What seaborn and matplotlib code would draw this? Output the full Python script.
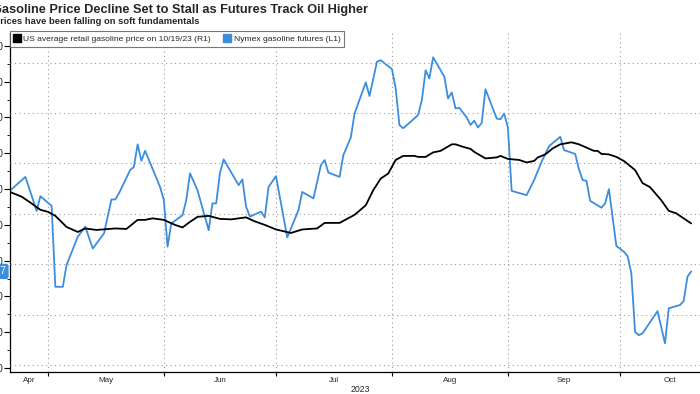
import matplotlib
matplotlib.use("Agg")
import matplotlib.pyplot as plt
import matplotlib.dates as mdates
import matplotlib.transforms as mtransforms
from matplotlib.lines import Line2D
from matplotlib.ticker import FixedLocator, NullFormatter
import pandas as pd
import seaborn as sns

# ---------------- data ----------------
title = "Gasoline Price Decline Set to Stall as Futures Track Oil Higher"
subtitle = "Prices have been falling on soft fundamentals"
retail_label = "US average retail gasoline price on 10/19/23 (R1)"
futures_label = "Nymex gasoline futures (L1)"
year_label = "2023"
last_futures_label = "2.27"

futures_dates = [
    "2023-04-21", "2023-04-25", "2023-04-28", "2023-04-29", "2023-05-02", "2023-05-03",
    "2023-05-05", "2023-05-06", "2023-05-09", "2023-05-11", "2023-05-13", "2023-05-16",
    "2023-05-18", "2023-05-19", "2023-05-20", "2023-05-23", "2023-05-24", "2023-05-25",
    "2023-05-26", "2023-05-27", "2023-05-31", "2023-06-01", "2023-06-02", "2023-06-03",
    "2023-06-06", "2023-06-07", "2023-06-08", "2023-06-10", "2023-06-13", "2023-06-14",
    "2023-06-15", "2023-06-16", "2023-06-17", "2023-06-21", "2023-06-22", "2023-06-23",
    "2023-06-24", "2023-06-27", "2023-06-28", "2023-06-29", "2023-07-01", "2023-07-04",
    "2023-07-07", "2023-07-08", "2023-07-11", "2023-07-13", "2023-07-14", "2023-07-15",
    "2023-07-18", "2023-07-19", "2023-07-21", "2023-07-22", "2023-07-25", "2023-07-26",
    "2023-07-28", "2023-07-29", "2023-08-01", "2023-08-02", "2023-08-03", "2023-08-04",
    "2023-08-06", "2023-08-08", "2023-08-09", "2023-08-10", "2023-08-11", "2023-08-12",
    "2023-08-15", "2023-08-16", "2023-08-17", "2023-08-18", "2023-08-19", "2023-08-21",
    "2023-08-22", "2023-08-23", "2023-08-24", "2023-08-25", "2023-08-26", "2023-08-29",
    "2023-08-30", "2023-08-31", "2023-09-01", "2023-09-02", "2023-09-05", "2023-09-06",
    "2023-09-08", "2023-09-10", "2023-09-12", "2023-09-15", "2023-09-16", "2023-09-19",
    "2023-09-20", "2023-09-21", "2023-09-22", "2023-09-23", "2023-09-26", "2023-09-27",
    "2023-09-28", "2023-09-30", "2023-10-02", "2023-10-03", "2023-10-04", "2023-10-05",
    "2023-10-06", "2023-10-07", "2023-10-11", "2023-10-13", "2023-10-14", "2023-10-17",
    "2023-10-18", "2023-10-19", "2023-10-20",
]
futures_values = [
    2.497, 2.534, 2.439, 2.480, 2.453, 2.227,
    2.227, 2.288, 2.367, 2.395, 2.334, 2.376,
    2.471, 2.471, 2.488, 2.553, 2.562, 2.625,
    2.579, 2.607, 2.506, 2.469, 2.339, 2.404,
    2.427, 2.469, 2.544, 2.497, 2.385, 2.460,
    2.460, 2.544, 2.583, 2.511, 2.527, 2.451,
    2.423, 2.437, 2.421, 2.506, 2.536, 2.365,
    2.441, 2.492, 2.474, 2.567, 2.581, 2.546,
    2.534, 2.595, 2.644, 2.711, 2.798, 2.760,
    2.856, 2.860, 2.835, 2.781, 2.679, 2.670,
    2.688, 2.707, 2.749, 2.832, 2.809, 2.868,
    2.814, 2.753, 2.770, 2.725, 2.727, 2.700,
    2.679, 2.691, 2.672, 2.685, 2.779, 2.697,
    2.695, 2.711, 2.672, 2.495, 2.486, 2.483,
    2.525, 2.576, 2.620, 2.646, 2.609, 2.598,
    2.555, 2.525, 2.523, 2.467, 2.448, 2.460,
    2.500, 2.341, 2.325, 2.313, 2.265, 2.101,
    2.092, 2.097, 2.159, 2.069, 2.167, 2.176,
    2.187, 2.255, 2.270,
]

retail_dates = [
    "2023-04-21", "2023-04-24", "2023-04-26", "2023-04-29", "2023-05-01", "2023-05-03",
    "2023-05-06", "2023-05-09", "2023-05-11", "2023-05-14", "2023-05-19", "2023-05-22",
    "2023-05-23", "2023-05-25", "2023-05-27", "2023-05-29", "2023-06-01", "2023-06-04",
    "2023-06-06", "2023-06-08", "2023-06-10", "2023-06-13", "2023-06-16", "2023-06-19",
    "2023-06-21", "2023-06-23", "2023-06-25", "2023-06-28", "2023-07-01", "2023-07-05",
    "2023-07-08", "2023-07-12", "2023-07-14", "2023-07-18", "2023-07-22", "2023-07-25",
    "2023-07-27", "2023-07-29", "2023-07-31", "2023-08-02", "2023-08-04", "2023-08-07",
    "2023-08-08", "2023-08-10", "2023-08-12", "2023-08-14", "2023-08-17", "2023-08-18",
    "2023-08-20", "2023-08-22", "2023-08-23", "2023-08-26", "2023-08-29", "2023-08-30",
    "2023-09-01", "2023-09-04", "2023-09-06", "2023-09-08", "2023-09-09", "2023-09-11",
    "2023-09-13", "2023-09-15", "2023-09-18", "2023-09-20", "2023-09-24", "2023-09-25",
    "2023-09-26", "2023-09-28", "2023-09-30", "2023-10-02", "2023-10-05", "2023-10-07",
    "2023-10-09", "2023-10-12", "2023-10-14", "2023-10-16", "2023-10-18", "2023-10-20",
]
retail_values = [
    3.643, 3.634, 3.624, 3.608, 3.604, 3.596,
    3.574, 3.564, 3.571, 3.568, 3.571, 3.570,
    3.576, 3.588, 3.588, 3.591, 3.588, 3.578,
    3.573, 3.584, 3.594, 3.596, 3.590, 3.589,
    3.591, 3.593, 3.586, 3.578, 3.569, 3.562,
    3.569, 3.571, 3.582, 3.582, 3.598, 3.617,
    3.647, 3.670, 3.680, 3.707, 3.715, 3.715,
    3.713, 3.713, 3.722, 3.725, 3.738, 3.738,
    3.733, 3.729, 3.723, 3.710, 3.712, 3.715,
    3.709, 3.707, 3.702, 3.705, 3.712, 3.718,
    3.730, 3.738, 3.742, 3.738, 3.725, 3.725,
    3.719, 3.718, 3.713, 3.705, 3.687, 3.661,
    3.653, 3.627, 3.606, 3.601, 3.591, 3.581,
]

left_ticks = [2.0, 2.1, 2.2, 2.3, 2.4, 2.5, 2.6, 2.7, 2.8, 2.9]
right_ticks = [3.3, 3.4, 3.5, 3.6, 3.7, 3.8, 3.9]
month_starts = ["2023-04-01", "2023-05-01", "2023-06-01", "2023-07-01",
                "2023-08-01", "2023-09-01", "2023-10-01", "2023-11-01"]
month_names = ["Apr", "May", "Jun", "Jul", "Aug", "Sep", "Oct"]

# ---------------- style ----------------
sns.set_style("white")
plt.rcParams["font.family"] = ["Liberation Sans Narrow", "Liberation Sans", "DejaVu Sans"]

BLUE = "#3b8ede"
GRID = "#9a9a9a"

W, H = 700, 394
fig = plt.figure(figsize=(W / 100, H / 100), dpi=100)
ax_left, ax_right, ax_top, ax_bottom = 10, 720, 33, 372
ax = fig.add_axes([ax_left / W, 1 - ax_bottom / H,
                   (ax_right - ax_left) / W, (ax_bottom - ax_top) / H])
ax2 = ax.twinx()

df_f = pd.DataFrame({"date": pd.to_datetime(futures_dates), "value": futures_values})
df_r = pd.DataFrame({"date": pd.to_datetime(retail_dates), "value": retail_values})

sns.lineplot(data=df_f, x="date", y="value", ax=ax, color=BLUE, lw=1.3)
sns.lineplot(data=df_r, x="date", y="value", ax=ax2, color="black", lw=1.3)

xlim = (pd.Timestamp("2023-04-20 21:00"), pd.Timestamp("2023-10-27 17:00"))

# left axis ticks (labels fall off the canvas as in the reference)
ax.set_yticks(left_ticks)
ax.set_yticklabels([f"{v:.2f}" for v in left_ticks])
ax.yaxis.set_minor_locator(FixedLocator([v + 0.05 for v in left_ticks]))
ax.tick_params(axis="y", which="major", direction="out", length=4, width=0.8,
               labelsize=7, pad=1, left=True, color="black")
ax.tick_params(axis="y", which="minor", direction="out", length=2, width=0.6,
               left=True, color="black")

# right axis: gridlines only (labels off canvas)
ax2.set_yticks(right_ticks)
ax2.set_yticklabels([f"{v:.2f}" for v in right_ticks])
ax2.tick_params(axis="y", labelsize=7)
ax2.yaxis.grid(True, linestyle=(0, (1, 3)), color=GRID, lw=0.8)
ax2.set_ylabel("")
ax.set_ylabel("")
ax.set_xlabel("")
ax2.set_xlabel("")

# x axis: month boundaries as major ticks/grid, month names centered
starts = pd.to_datetime(month_starts)
ax.set_xticks(mdates.date2num(starts))
ax.xaxis.set_major_formatter(NullFormatter())
mids = []
for i in range(len(month_names)):
    a = max(starts[i], xlim[0])
    b = min(starts[i + 1], xlim[1])
    mids.append(a + (b - a) / 2)
ax.set_xticks(mdates.date2num(pd.DatetimeIndex(mids)), minor=True)
ax.set_xticklabels(month_names, minor=True)
ax.tick_params(axis="x", which="major", direction="out", length=3, width=0.8,
               bottom=True, color="black")
ax.tick_params(axis="x", which="minor", length=0, labelsize=5.8, pad=3.5)
ax.xaxis.grid(True, which="major", linestyle=(0, (1, 3)), color=GRID, lw=0.8)
ax.yaxis.grid(False)

# limits set after ticks (set_xticks would otherwise widen the view)
ax.set_xlim(*xlim)
ax.set_ylim(1.989, 2.936)
ax2.set_ylim(3.286, 3.959)

for s in ["top", "right"]:
    ax.spines[s].set_visible(False)
for s in ax2.spines.values():
    s.set_visible(False)
ax.spines["left"].set_color("black")
ax.spines["bottom"].set_color("black")
ax.spines["left"].set_linewidth(0.9)
ax.spines["bottom"].set_linewidth(0.9)

# year label
fig.text(360 / W, 1 - 390 / H, year_label, ha="center", va="center", fontsize=6.3)

# last value tag on left axis
trans = mtransforms.offset_copy(ax.get_yaxis_transform(), fig=fig, x=-4, y=0, units="dots")
ax.text(0, futures_values[-1], last_futures_label, transform=trans, ha="right", va="center",
        fontsize=7, color="white",
        bbox=dict(boxstyle="round,pad=0.2", fc=BLUE, ec=BLUE))

# title & subtitle (left part cropped as in reference)
t_title = fig.text(368 / W, 1 - 13.5 / H, title, ha="right", va="baseline",
                   fontsize=9.6, fontweight="bold")
t_sub = fig.text(200 / W, 1 - 23.5 / H, subtitle, ha="right", va="baseline",
                 fontsize=6.8, fontweight="bold")

fig.canvas.draw()
renderer = fig.canvas.get_renderer()


def fit_width(txt, target_px):
    w = txt.get_window_extent(renderer).width
    txt.set_fontsize(txt.get_fontsize() * target_px / w)


fit_width(t_title, 377)
fit_width(t_sub, 206)

# legend
handles = [
    Line2D([], [], marker="s", color="black", linestyle="none", markersize=5.5),
    Line2D([], [], marker="s", color=BLUE, linestyle="none", markersize=5.5),
]


def make_legend(fs):
    lg = fig.legend(handles, [retail_label, futures_label], loc="upper left",
                    bbox_to_anchor=(10 / W, 1 - 31 / H), ncol=2, frameon=True,
                    fontsize=fs, handlelength=0.7, handletextpad=0.4, columnspacing=1.6,
                    borderpad=0.45, fancybox=False, shadow=False, borderaxespad=0)
    lg.get_frame().set_edgecolor("#555555")
    lg.get_frame().set_linewidth(0.8)
    return lg


leg = make_legend(6.8)
fig.canvas.draw()
lw = leg.get_window_extent(renderer).width
leg.remove()
leg = make_legend(6.8 * 333 / lw)

fig.savefig("out.png", dpi=100, facecolor="white")
